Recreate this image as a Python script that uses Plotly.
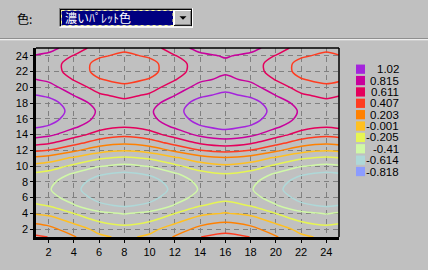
import plotly.graph_objects as go

# ---- data ----
x_vals = [0, 2, 4, 6, 8, 10, 12, 14, 16, 18, 20, 22, 24, 26]
y_vals = list(range(1, 26))
z_rows = [
    [0.48, 0.404, 0.22, 0.036, -0.04, 0.036, 0.22, 0.404, 0.48, 0.404, 0.22, 0.036, -0.04, 0.036],
    [0.33, 0.263, 0.10, -0.063, -0.13, -0.063, 0.10, 0.263, 0.33, 0.263, 0.10, -0.063, -0.13, -0.063],
    [0.185, 0.117, -0.048, -0.212, -0.28, -0.212, -0.048, 0.117, 0.185, 0.117, -0.048, -0.212, -0.28, -0.212],
    [0.01, -0.053, -0.207, -0.357, -0.42, -0.357, -0.207, -0.053, 0.01, -0.053, -0.207, -0.357, -0.42, -0.357],
    [-0.14, -0.214, -0.393, -0.571, -0.645, -0.571, -0.393, -0.214, -0.14, -0.214, -0.393, -0.571, -0.645, -0.571],
    [-0.26, -0.332, -0.505, -0.678, -0.75, -0.678, -0.505, -0.332, -0.26, -0.332, -0.505, -0.678, -0.75, -0.678],
    [-0.32, -0.392, -0.565, -0.738, -0.81, -0.738, -0.565, -0.392, -0.32, -0.392, -0.565, -0.738, -0.81, -0.738],
    [-0.29, -0.36, -0.53, -0.70, -0.77, -0.70, -0.53, -0.36, -0.29, -0.36, -0.53, -0.70, -0.77, -0.70],
    [-0.21, -0.276, -0.435, -0.594, -0.66, -0.594, -0.435, -0.276, -0.21, -0.276, -0.435, -0.594, -0.66, -0.594],
    [-0.04, -0.102, -0.25, -0.398, -0.46, -0.398, -0.25, -0.102, -0.04, -0.102, -0.25, -0.398, -0.46, -0.398],
    [0.17, 0.108, -0.04, -0.188, -0.25, -0.188, -0.04, 0.108, 0.17, 0.108, -0.04, -0.188, -0.25, -0.188],
    [0.47, 0.403, 0.24, 0.077, 0.01, 0.077, 0.24, 0.403, 0.47, 0.403, 0.24, 0.077, 0.01, 0.077],
    [0.72, 0.651, 0.485, 0.319, 0.25, 0.319, 0.485, 0.651, 0.72, 0.651, 0.485, 0.319, 0.25, 0.319],
    [0.93, 0.861, 0.695, 0.529, 0.46, 0.529, 0.695, 0.861, 0.93, 0.861, 0.695, 0.529, 0.46, 0.529],
    [1.07, 1.004, 0.845, 0.686, 0.62, 0.686, 0.845, 1.004, 1.07, 1.004, 0.845, 0.686, 0.62, 0.686],
    [1.16, 1.093, 0.93, 0.767, 0.70, 0.767, 0.93, 1.093, 1.16, 1.093, 0.93, 0.767, 0.70, 0.767],
    [1.20, 1.13, 0.96, 0.79, 0.72, 0.79, 0.96, 1.13, 1.20, 1.13, 0.96, 0.79, 0.72, 0.79],
    [1.17, 1.097, 0.92, 0.743, 0.67, 0.743, 0.92, 1.097, 1.17, 1.097, 0.92, 0.743, 0.67, 0.743],
    [1.06, 0.988, 0.813, 0.638, 0.565, 0.638, 0.813, 0.988, 1.06, 0.988, 0.813, 0.638, 0.565, 0.638],
    [0.96, 0.887, 0.71, 0.533, 0.46, 0.533, 0.71, 0.887, 0.96, 0.887, 0.71, 0.533, 0.46, 0.533],
    [0.855, 0.78, 0.60, 0.42, 0.345, 0.42, 0.60, 0.78, 0.855, 0.78, 0.60, 0.42, 0.345, 0.42],
    [0.79, 0.713, 0.528, 0.342, 0.265, 0.342, 0.528, 0.713, 0.79, 0.713, 0.528, 0.342, 0.265, 0.342],
    [0.78, 0.705, 0.525, 0.345, 0.27, 0.345, 0.525, 0.705, 0.78, 0.705, 0.525, 0.345, 0.27, 0.345],
    [0.83, 0.775, 0.598, 0.433, 0.365, 0.433, 0.598, 0.775, 0.83, 0.775, 0.598, 0.433, 0.365, 0.433],
    [0.93, 0.87, 0.74, 0.50, 0.45, 0.50, 0.74, 0.87, 0.93, 0.87, 0.74, 0.50, 0.45, 0.50],
]
tick_vals = [2, 4, 6, 8, 10, 12, 14, 16, 18, 20, 22, 24]
legend_labels = ["1.02", "0.815", "0.611", "0.407", "0.203", "-0.001", "-0.205", "-0.41", "-0.614", "-0.818"]
level_colors = ["#a424dc", "#c8009c", "#e4005c", "#ff3c20", "#ff8000", "#ffc020",
                "#e6f553", "#d0f8a6", "#aed8d8", "#8c9cff"]
combo_label = "色:"
combo_text = "濃いﾊﾟﾚｯﾄ色"

# ---- geometry ----
W, H = 428, 270
ML, MR, MT, MB = 36, 89, 48, 28
PW, PH = W - ML - MR, H - MT - MB
FONT = "Liberation Sans, Arial, sans-serif"
BG = "#c0c0c0"


def px(x):
    return (x - ML) / PW


def py(y):
    return 1 - (y - MT) / PH


levels = sorted(float(s) for s in legend_labels)
lvl_start, lvl_end = levels[0], levels[-1]
lvl_size = (lvl_end - lvl_start) / (len(levels) - 1)
asc_colors = list(reversed(level_colors))
n = len(asc_colors)
cscale = []
for i, c in enumerate(asc_colors):
    lo = max(0.0, (i - 0.5) / (n - 1))
    hi = min(1.0, (i + 0.5) / (n - 1))
    cscale.append([lo, c])
    cscale.append([hi, c])

fig = go.Figure()
fig.add_trace(go.Contour(
    x=x_vals, y=y_vals, z=z_rows,
    autocontour=False,
    contours=dict(start=lvl_start, end=lvl_end + 0.005, size=lvl_size, coloring="lines"),
    colorscale=cscale, showscale=False,
    line=dict(width=1.5, smoothing=0.8),
    hoverinfo="skip",
))

axis_common = dict(
    range=[1, 25], tickvals=tick_vals, showgrid=True, gridcolor="#808080",
    griddash="5px,4px", gridwidth=1, showline=True, linecolor="black", linewidth=2.5,
    ticks="outside", ticklen=3, tickcolor="black", zeroline=False,
    tickfont=dict(family=FONT, size=11, color="black"),
)
fig.update_xaxes(**axis_common)
fig.update_yaxes(**axis_common)

shapes = []
annotations = []


def hline(x0, x1, y, color, width=1):
    shapes.append(dict(type="line", xref="paper", yref="paper", x0=px(x0), x1=px(x1),
                       y0=py(y), y1=py(y), line=dict(color=color, width=width), layer="above"))


def vline(x, y0, y1, color, width=1):
    shapes.append(dict(type="line", xref="paper", yref="paper", x0=px(x), x1=px(x),
                       y0=py(y0), y1=py(y1), line=dict(color=color, width=width), layer="above"))


def rect(x0, y0, x1, y1, fill, line=None, dash=None):
    ln = dict(width=0) if line is None else dict(color=line, width=1, dash=dash or "solid")
    shapes.append(dict(type="rect", xref="paper", yref="paper", x0=px(x0), x1=px(x1),
                       y0=py(y0), y1=py(y1), fillcolor=fill, line=ln, layer="above"))


# plot frame top / right
shapes.append(dict(type="line", xref="paper", yref="paper", x0=0, x1=1, y0=1, y1=1,
                   line=dict(color="black", width=1.5), layer="above"))
shapes.append(dict(type="line", xref="paper", yref="paper", x0=1, x1=1, y0=0, y1=1,
                   line=dict(color="black", width=1.5), layer="above"))

# separator under the combo box
hline(0, W, 38.5, "#808080")
hline(0, W, 39.5, "#ffffff")

# combo box
rect(59, 7, 193, 27, "#ffffff")
hline(59, 193, 7.5, "#808080")
vline(59.5, 7, 27, "#808080")
hline(60, 192, 8.5, "#000000")
vline(60.5, 8, 26, "#000000")
hline(59, 193, 26.5, "#ffffff")
vline(192.5, 7, 27, "#ffffff")
rect(61.5, 9.5, 173, 25, "#000080", line="#ffff99", dash="dot")
# drop button
rect(174, 9, 192, 25.5, BG)
hline(174, 192, 9.5, "#ffffff")
vline(174.5, 9, 25.5, "#ffffff")
hline(174, 192, 25, "#000000")
vline(191.5, 9, 25.5, "#000000")
hline(175, 191, 24, "#808080")
vline(190.5, 10, 24.5, "#808080")
shapes.append(dict(type="path", xref="paper", yref="paper", layer="above",
                   path="M {} {} L {} {} L {} {} Z".format(px(179.5), py(15.5), px(186.5), py(15.5),
                                                        px(183), py(19)),
                   fillcolor="black", line=dict(width=0)))

annotations.append(dict(xref="paper", yref="paper", x=px(15), y=py(17.5), xanchor="left",
                        yanchor="middle", text=combo_label, showarrow=False,
                        font=dict(family="Noto Sans CJK JP", size=12, color="black")))
annotations.append(dict(xref="paper", yref="paper", x=px(62.5), y=py(17), xanchor="left",
                        yanchor="middle", text=combo_text, showarrow=False,
                        font=dict(family="Noto Sans CJK JP", size=12, color="white")))

# legend of contour levels
for i, (lab, col) in enumerate(zip(legend_labels, level_colors)):
    y0 = 65 + i * 11.67
    rect(356, y0, 365, y0 + 9.5, col)
    annotations.append(dict(xref="paper", yref="paper", x=px(401), y=py(y0 + 4.8),
                            xanchor="right", yanchor="middle", text=lab, showarrow=False,
                            font=dict(family=FONT, size=11.5, color="black")))

fig.update_layout(
    width=W, height=H, margin=dict(l=ML, r=MR, t=MT, b=MB, pad=0),
    paper_bgcolor=BG, plot_bgcolor=BG, showlegend=False,
    shapes=shapes, annotations=annotations,
)

fig.write_html("out.html")
